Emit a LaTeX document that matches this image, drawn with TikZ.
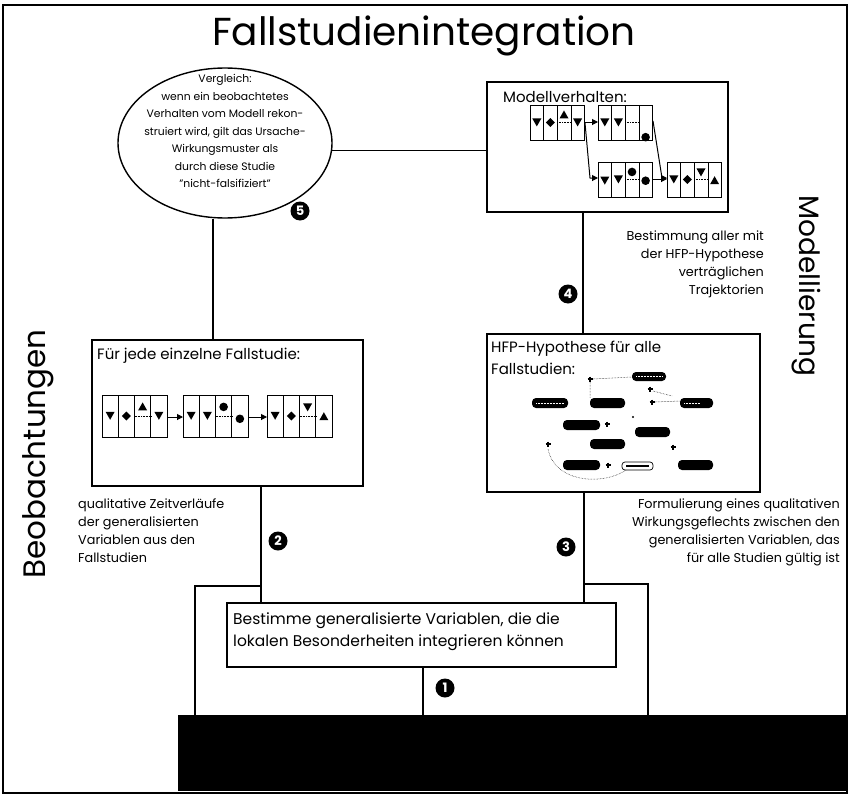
\documentclass[tikz,border=0pt]{standalone}
\usepackage{fontspec}
\setmainfont{Poppins}
\usetikzlibrary{shapes.geometric,arrows.meta,calc}

\newcommand\SymTdn[1]{\fill #1 ++(-4.5pt,3.5pt) -- ++(9pt,0pt) -- ++(-4.5pt,-8pt) -- cycle;}
\newcommand\SymTup[1]{\fill #1 ++(-4.5pt,-3.5pt) -- ++(9pt,0pt) -- ++(-4.5pt,8pt) -- cycle;}
\newcommand\SymDia[1]{\fill #1 ++(0pt,4.5pt) -- ++(4.5pt,-4.5pt) -- ++(-4.5pt,-4.5pt) -- ++(-4.5pt,4.5pt) -- cycle;}
\newcommand\SymDot[1]{\fill #1 circle[radius=4.3pt];}
\newcommand\SymPlus[2]{\draw[line width=1.1pt] (#1-2.5,#2) -- (#1+2.5,#2) (#1,#2-2.5) -- (#1,#2+2.5);}

\tikzset{
  conn/.style={line width=1.4pt},
  boxx/.style={draw, line width=1.4pt, rectangle, inner sep=0pt, fill=white},
  cellbox/.style={line width=0.6pt},
  midl/.style={line width=0.6pt, densely dotted},
  seqarrow/.style={line width=1pt, -{Triangle[length=6pt,width=6pt]}},
  numc/.style={circle, fill=black, text=white, inner sep=0pt, minimum size=19pt, font=\fontsize{13}{13}\selectfont\bfseries},
  elltxt/.style={font=\fontsize{10.8}{17.5}\selectfont, inner sep=0pt},
  sidetxt/.style={font=\fontsize{12.8}{18}\selectfont, inner sep=0pt},
  titletxt/.style={font=\fontsize{15}{22}\selectfont, inner sep=0pt},
  blob/.style={fill=black, rounded corners=4pt},
}

\begin{document}
\begin{tikzpicture}[x=1pt,y=-1pt]
\useasboundingbox (0,0) rectangle (851,800);
\fill[white] (0,0) rectangle (851,800);

% outer frame
\draw[line width=1.2pt] (3,5) rectangle (847,793);

% title
\node[font=\fontsize{39}{42}\selectfont, inner sep=0pt] (title) at (424,36) {Fallstudienintegration};

% side labels
\node[font=\fontsize{31}{34}\selectfont, rotate=90, inner sep=0pt] (beob) at (38,454) {Beobachtungen};
\node[font=\fontsize{28}{30}\selectfont, rotate=-90, inner sep=0pt] (modl) at (806,286) {Modellierung};

% ellipse
\node[draw, ellipse, line width=1.4pt, minimum width=214pt, minimum height=150pt, inner sep=0pt] (cmp) at (225,143) {};
\node[elltxt, align=center] (cmptxt) at (225,131) {Vergleich:\\wenn ein beobachtetes\\Verhalten vom Modell rekon-\\struiert wird, gilt das Ursache-\\Wirkungsmuster als\\durch diese Studie\\"nicht-falsifiziert"};

% boxes
\node[boxx, minimum width=241pt, minimum height=130pt] (mb) at (607.5,147) {};
\node[boxx, minimum width=271pt, minimum height=146pt] (fb) at (227.5,413) {};
\node[boxx, minimum width=273pt, minimum height=158pt] (hb) at (623.5,413) {};

% connectors upper
\draw[conn] (cmp.-4) -- (cmp.-4 -| mb.west);
\draw[conn] (213,0 |- fb.north) -- (213,0 |- cmp.south);
\draw[conn] (583,0 |- mb.south) -- (583,0 |- hb.north);

% bottom bar
\node[fill=black, minimum width=669pt, minimum height=76pt, inner sep=0pt, anchor=north west] (bar) at (178,715) {};

% lower structure
\coordinate (jl) at (261,586);
\coordinate (jr) at (584,584);
\draw[conn] (261,0 |- fb.south) -- (261,603);
\draw[conn] (jl) -- (195,586) -- (195,0 |- bar.north);
\draw[conn] (584,0 |- hb.south) -- (584,603);
\draw[conn] (jr) -- (648,584) -- (648,0 |- bar.north);

\node[boxx, minimum width=389pt, minimum height=64pt] (bb) at (421.5,635) {};
\node[font=\fontsize{15.5}{22}\selectfont, align=left, inner sep=0pt, anchor=west] (bbtxt) at (233,632) {Bestimme generalisierte Variablen, die die\\lokalen Besonderheiten integrieren können};
\draw[conn] (423,0 |- bb.south) -- (423,0 |- bar.north);

% box titles
\node[titletxt, anchor=west] (mbt) at (503,97) {Modellverhalten:};
\node[titletxt, anchor=west] (fbt) at (97,356) {Für jede einzelne Fallstudie:};
\node[titletxt, anchor=north west, align=left] (hbt) at (491,341) {HFP-Hypothese für alle\\Fallstudien:};

% side texts
\node[sidetxt, align=right, anchor=east] (t4) at (764,264) {Bestimmung aller mit\\der HFP-Hypothese\\verträglichen\\Trajektorien};
\node[sidetxt, align=left, anchor=west] (t2) at (78,531) {qualitative Zeitverläufe\\der generalisierten\\Variablen aus den\\Fallstudien};
\node[sidetxt, align=right, anchor=east] (t3) at (840,532) {Formulierung eines qualitativen\\Wirkungsgeflechts zwischen den\\generalisierten Variablen, das\\für alle Studien gültig ist};

% numbered circles
\node[numc] (n1) at (445,688) {1};
\node[numc] (n2) at (278,541) {2};
\node[numc] (n3) at (566,547) {3};
\node[numc] (n4) at (568,294) {4};
\node[numc] (n5) at (300,211) {5};

% ---- left box sequences ----
\begin{scope}[shift={(102,395)}, x=16.25pt, y=-14pt]
  \foreach \i in {0,...,3} \draw[cellbox] (\i,0) rectangle ++(1,3);
  \SymTdn{(0.5,1.45)} \SymDia{(1.5,1.5)} \SymTup{(2.5,0.85)} \draw[midl] (2,1.55) -- (3,1.55);
  \SymTdn{(3.5,1.45)}
\end{scope}
\draw[seqarrow] (167,417) -- (183,417);
\begin{scope}[shift={(183,395)}, x=16.25pt, y=-14pt]
  \foreach \i in {0,...,3} \draw[cellbox] (\i,0) rectangle ++(1,3);
  \SymTdn{(0.5,1.45)} \SymTdn{(1.5,1.45)} \SymDot{(2.5,0.85)} \draw[midl] (2,1.55) -- (3,1.55);
  \SymDot{(3.5,1.7)}
\end{scope}
\draw[seqarrow] (248,417) -- (267,417);
\begin{scope}[shift={(267,395)}, x=16.25pt, y=-14pt]
  \foreach \i in {0,...,3} \draw[cellbox] (\i,0) rectangle ++(1,3);
  \SymTdn{(0.5,1.45)} \SymDia{(1.5,1.5)} \SymTdn{(2.5,0.85)} \draw[midl] (2,1.55) -- (3,1.55);
  \SymTup{(3.5,1.55)}
\end{scope}

% ---- model box sequences ----
\begin{scope}[shift={(530,105)}, x=13.6pt, y=-11.7pt]
  \foreach \i in {0,...,3} \draw[cellbox] (\i,0) rectangle ++(1,3);
  \SymTdn{(0.5,1.45)} \SymDia{(1.5,1.5)} \SymTup{(2.5,0.85)} \draw[midl] (2,1.5) -- (3,1.5);
  \SymTdn{(3.5,1.45)}
\end{scope}
\begin{scope}[shift={(598,105)}, x=13.6pt, y=-11.7pt]
  \foreach \i in {0,...,3} \draw[cellbox] (\i,0) rectangle ++(1,3);
  \SymTdn{(0.5,1.45)} \SymTdn{(1.5,1.45)} \draw[midl] (2,1.5) -- (3,1.5);
  \SymDot{(3.5,2.75)}
\end{scope}
\begin{scope}[shift={(598,162)}, x=13.6pt, y=-11.7pt]
  \foreach \i in {0,...,3} \draw[cellbox] (\i,0) rectangle ++(1,3);
  \SymTdn{(0.5,1.55)} \SymTdn{(1.5,1.45)} \SymDot{(2.5,0.85)} \draw[midl] (2,1.5) -- (3,1.5);
  \SymDot{(3.5,1.6)}
\end{scope}
\begin{scope}[shift={(667,162)}, x=13.6pt, y=-11.7pt]
  \foreach \i in {0,...,3} \draw[cellbox] (\i,0) rectangle ++(1,3);
  \SymTdn{(0.5,1.45)} \SymDia{(1.5,1.5)} \SymTdn{(2.5,0.85)} \draw[midl] (2,1.5) -- (3,1.5);
  \SymTup{(3.5,1.6)}
\end{scope}
\draw[seqarrow] (584,122) -- (598,122);
\draw[seqarrow] (585,123) -- (590,178) -- (598,178);
\draw[seqarrow] (653,121) -- (662,178) -- (667,178);
\draw[seqarrow] (653,179) -- (667,179);

% ---- HFP hypothesis sketch ----
\fill[blob] (632,372) rectangle (666,381);
\fill[blob] (532,398) rectangle (568,408);
\fill[blob] (590,398) rectangle (625,408);
\fill[blob] (680,398) rectangle (713,408);
\fill[blob] (563,420) rectangle (600,430);
\fill[blob] (635,427) rectangle (670,437);
\fill[blob] (590,439) rectangle (625,449);
\fill[blob] (563,460) rectangle (600,470);
\draw[line width=0.7pt, rounded corners=3pt] (622,462) rectangle (653,470);
\draw[line width=1.4pt] (626,466) -- (649,466);
\fill[blob] (678,460) rectangle (713,470);
\draw[white, line width=0.5pt, densely dotted] (636,376) -- (662,376) (536,403) -- (564,403) (684,403) -- (700,403);
\SymPlus{590}{379} \SymPlus{650}{389} \SymPlus{652}{402} \SymPlus{607}{424}
\SymPlus{548}{444} \SymPlus{673}{447} \SymPlus{608}{465}
\fill (633,417) circle[radius=1.2pt];
\draw[line width=0.5pt, densely dotted] (593,379) -- (632,377) (590,382) -- (590,398) (655,402) -- (680,401) (653,391) -- (672,396);
\draw[line width=0.5pt, densely dotted] (626,470) .. controls (605,485) and (555,484) .. (548,449);
\end{tikzpicture}
\end{document}
